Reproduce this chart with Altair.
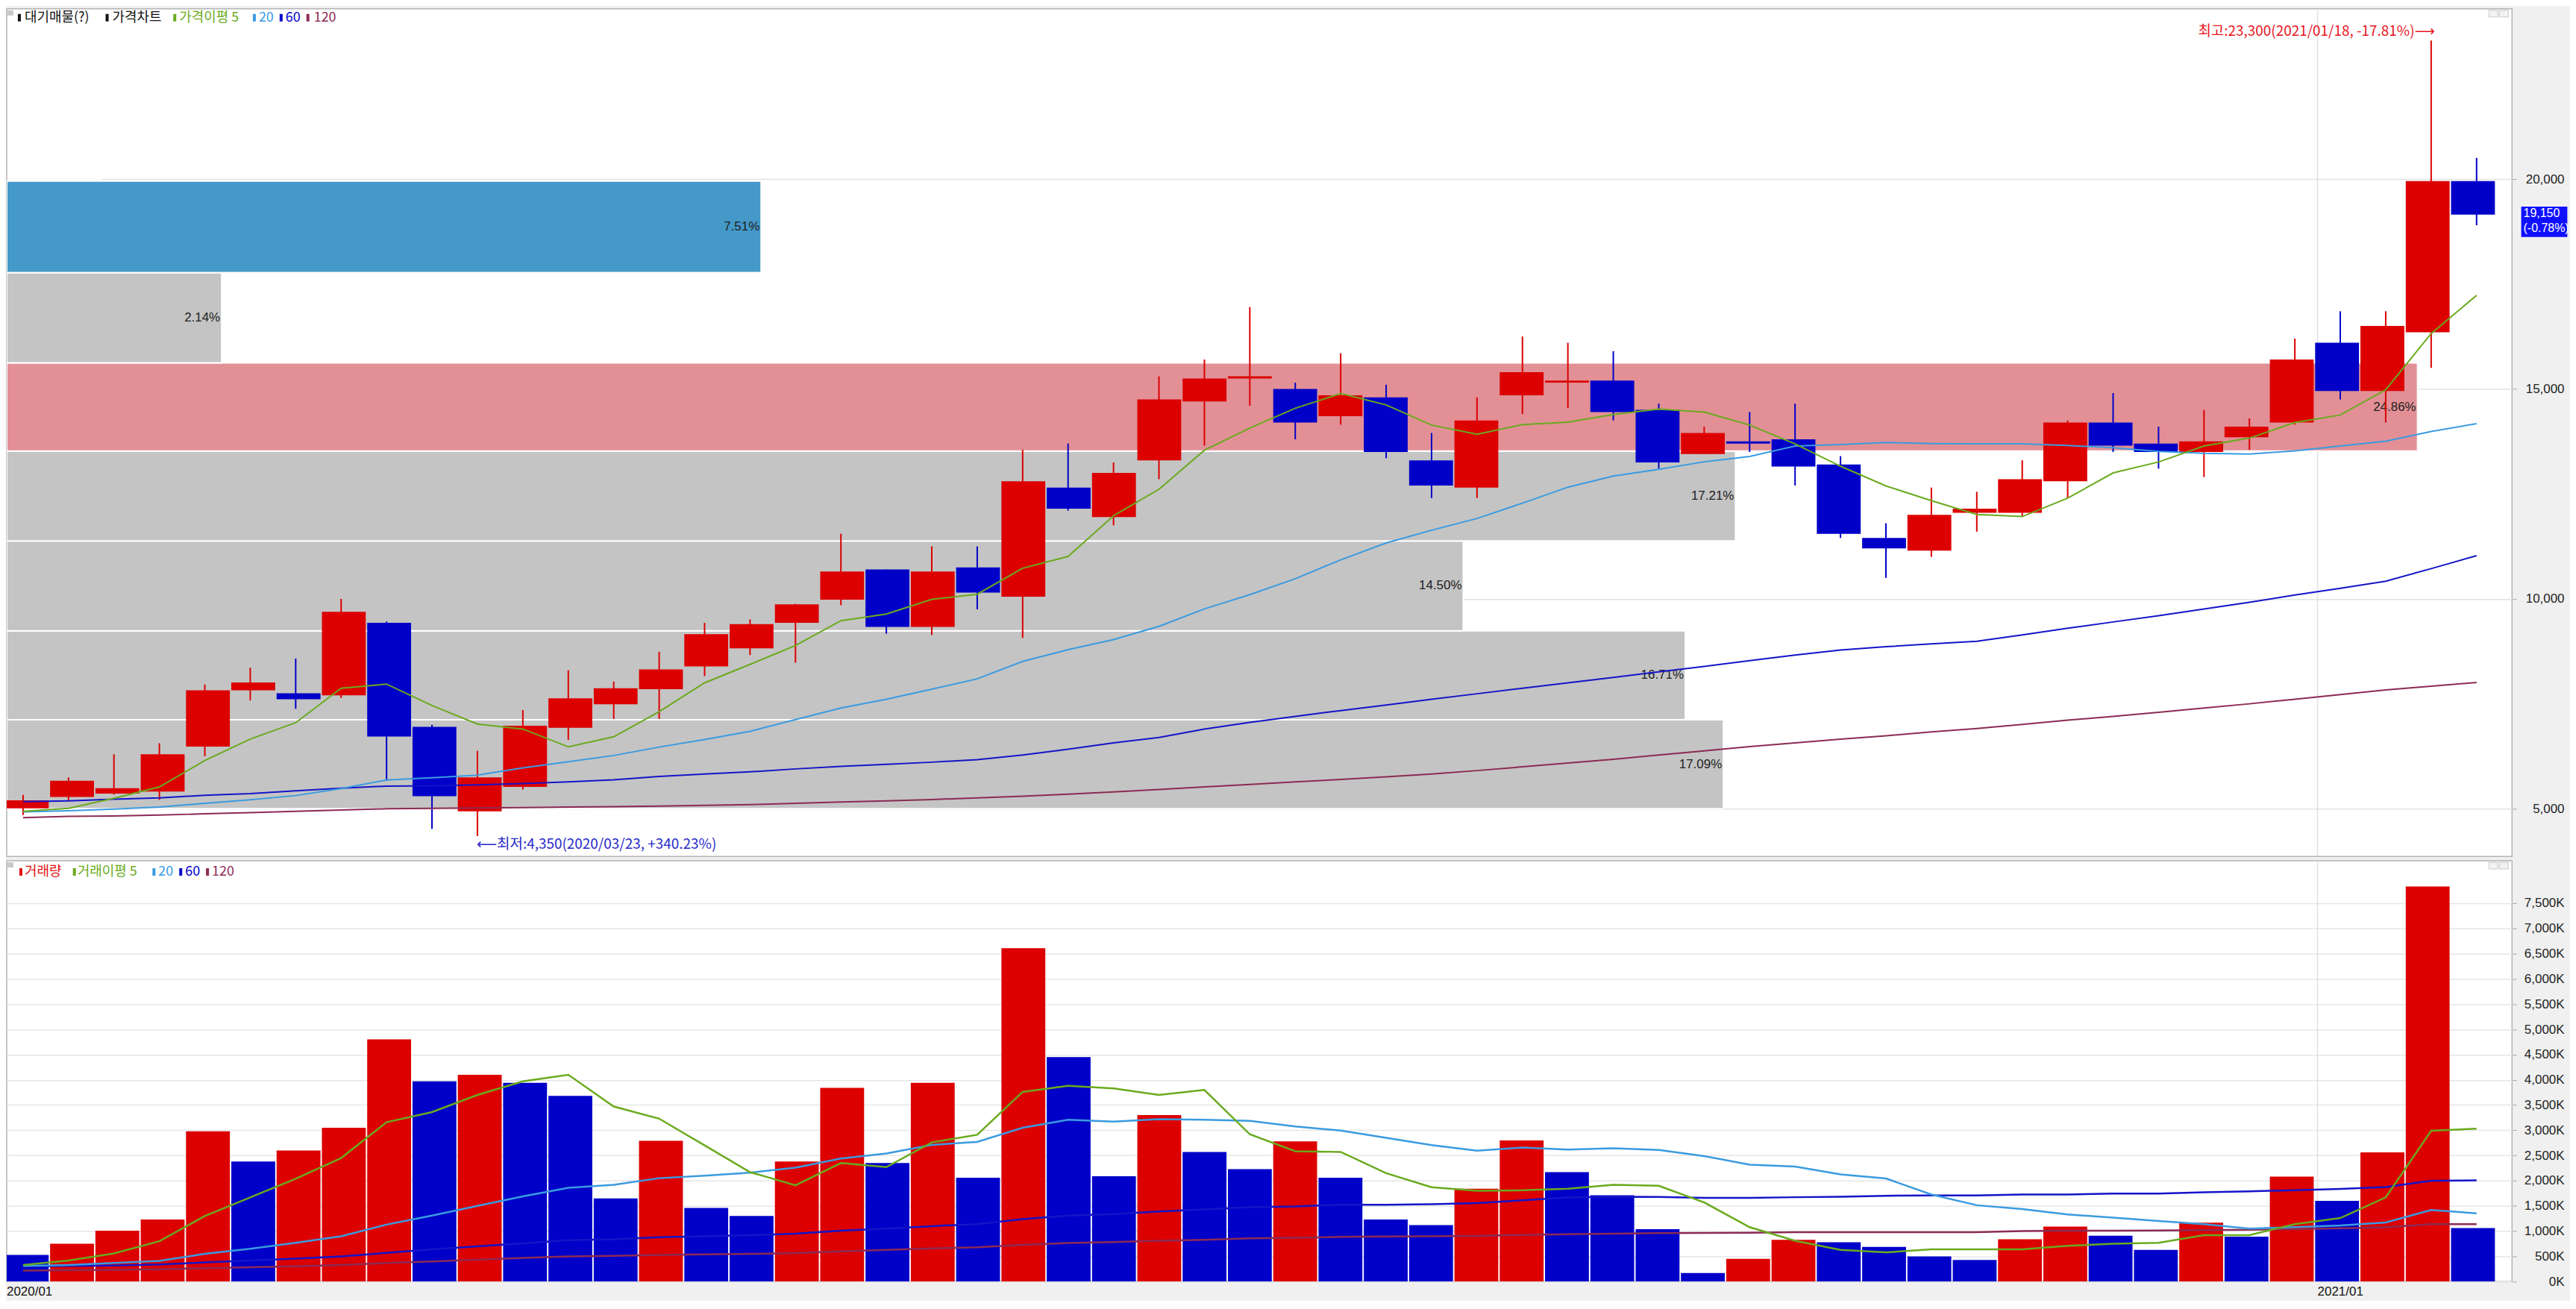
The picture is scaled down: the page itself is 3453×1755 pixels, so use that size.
import altair as alt
import numpy as np
import pandas as pd

# ---------------- data (weekly bars) ----------------
bars = list(range(1, 56))
open_ = [5010, 5280, 5360, 5410, 6480, 7820, 7750, 7700, 9430, 6950,
         4940, 5520, 6930, 7490, 7850, 8390, 8820, 9430, 9980, 10700,
         9330, 10750, 10050, 12650, 11950, 13300, 14700, 15250, 15000, 14350,
         14800, 13300, 12650, 14850, 15150, 15200, 14500, 13450, 13750, 13800,
         13200, 11450, 11150, 12050, 12050, 12800, 14200, 13700, 13500, 13850,
         14200, 16100, 14950, 16350, 19950]
high = [5330, 5750, 6300, 6560, 7960, 8360, 8580, 10000, 9460, 7000,
        6380, 7350, 8300, 8030, 8740, 9430, 9510, 9880, 11550, 10700,
        11250, 11250, 13550, 13700, 13250, 15300, 15700, 16950, 15150, 15850,
        15100, 13950, 14800, 16250, 16100, 15900, 14650, 14100, 14450, 14650,
        13400, 11800, 12650, 12550, 13300, 14250, 14900, 14100, 14500, 14300,
        16200, 16850, 16850, 23300, 20500]
low = [4850, 5190, 5340, 5210, 6250, 7580, 7380, 7640, 5670, 4520,
       4350, 5460, 6640, 7140, 7140, 8160, 8660, 8480, 9850, 9170,
       9140, 9750, 9070, 12100, 11750, 12850, 13650, 14600, 13800, 14150,
       13350, 12400, 12400, 14400, 14550, 14250, 13100, 13450, 13500, 12700,
       11450, 10500, 11000, 11600, 11950, 12400, 13500, 13100, 12900, 13550,
       14150, 14750, 14200, 15500, 18900]
close = [5200, 5670, 5490, 6300, 7820, 8010, 7610, 9690, 6720, 5300,
         5750, 6980, 7630, 7870, 8320, 9160, 9400, 9870, 10650, 9330,
         10650, 10150, 12800, 12150, 13000, 14750, 15250, 15300, 14200, 14850,
         13500, 12700, 14250, 15400, 15200, 14450, 13250, 13950, 13700, 13150,
         11550, 11200, 12000, 12150, 12850, 14200, 13650, 13500, 13750, 14100,
         15700, 14950, 16500, 19950, 19150]

price_ma5 = [4940, 5010, 5250, 5520, 6150, 6660, 7050, 7870, 7970, 7460,
             7020, 6900, 6475, 6715, 7315, 8000, 8440, 8890, 9480, 9640,
             9990, 10110, 10730, 11010, 11980, 12610, 13540, 14070, 14540, 14890,
             14620, 14140, 13920, 14150, 14210, 14390, 14520, 14450, 14140, 13690,
             13160, 12690, 12340, 12010, 11960, 12400, 13000, 13260, 13640, 13830,
             14200, 14380, 14980, 16320, 17230]
price_ma20 = [4925, 4955, 4995, 5040, 5130, 5215, 5315, 5480, 5685, 5740,
              5800, 5975, 6120, 6270, 6470, 6650, 6845, 7125, 7400, 7610,
              7850, 8095, 8510, 8790, 9030, 9345, 9760, 10100, 10480, 10930,
              11330, 11635, 11915, 12280, 12660, 12925, 13085, 13265, 13390, 13640,
              13675, 13725, 13700, 13695, 13695, 13655, 13600, 13510, 13465, 13450,
              13525, 13640, 13755, 13985, 14175]
price_ma60 = [5170, 5190, 5230, 5260, 5320, 5360, 5430, 5490, 5540, 5550,
              5570, 5600, 5640, 5690, 5770, 5830, 5880, 5950, 6010, 6060,
              6110, 6170, 6280, 6420, 6570, 6700, 6900, 7060, 7200, 7340,
              7470, 7610, 7740, 7870, 8000, 8130, 8260, 8390, 8530, 8660,
              8780, 8860, 8930, 8990, 9140, 9300, 9450, 9600, 9760, 9920,
              10090, 10250, 10420, 10720, 11030]
price_ma120 = [4790, 4820, 4830, 4850, 4880, 4910, 4940, 4970, 5000, 5010,
               5020, 5030, 5040, 5050, 5065, 5080, 5100, 5130, 5160, 5190,
               5220, 5260, 5300, 5350, 5400, 5460, 5520, 5580, 5640, 5700,
               5760, 5830, 5910, 6000, 6090, 6180, 6280, 6380, 6480, 6570,
               6660, 6740, 6830, 6910, 7010, 7110, 7200, 7300, 7400, 7500,
               7610, 7720, 7830, 7920, 8010]

volume_k = [530, 750, 1010, 1230, 2980, 2380, 2600, 3050, 4800, 3970,
            4100, 3940, 3680, 1650, 2790, 1460, 1300, 2380, 3840, 2350,
            3940, 2060, 6610, 4450, 2090, 3300, 2570, 2230, 2780, 2060,
            1230, 1120, 1840, 2800, 2170, 1710, 1040, 170, 450, 830,
            780, 690, 500, 430, 840, 1090, 910, 630, 1170, 890,
            2080, 1600, 2560, 7830, 1060]
vol_ma5 = [330, 420, 560, 800, 1300, 1670, 2040, 2450, 3160, 3360,
           3700, 3970, 4100, 3470, 3230, 2700, 2170, 1910, 2350, 2270,
           2760, 2910, 3760, 3880, 3830, 3700, 3800, 2920, 2585, 2570,
           2150, 1870, 1800, 1810, 1840, 1920, 1900, 1570, 1080, 810,
           630, 580, 640, 640, 640, 710, 750, 770, 920, 920,
           1140, 1260, 1670, 2990, 3030]
vol_ma20 = [310, 330, 370, 410, 550, 650, 770, 900, 1130, 1310,
            1500, 1690, 1860, 1920, 2050, 2100, 2160, 2260, 2440, 2540,
            2710, 2770, 3050, 3210, 3170, 3220, 3210, 3187, 3076, 2994,
            2850, 2705, 2594, 2657, 2618, 2643, 2609, 2488, 2319, 2281,
            2127, 2045, 1726, 1514, 1437, 1331, 1268, 1201, 1138, 1051,
            1080, 1114, 1172, 1418, 1355]
vol_ma60 = [300, 310, 320, 340, 380, 420, 455, 500, 570, 640,
            700, 760, 820, 840, 880, 900, 920, 950, 1010, 1050,
            1100, 1140, 1240, 1310, 1340, 1390, 1430, 1476, 1490, 1524,
            1524, 1533, 1558, 1611, 1668, 1683, 1678, 1659, 1659, 1673,
            1683, 1702, 1707, 1707, 1726, 1726, 1746, 1746, 1770, 1789,
            1813, 1837, 1876, 2001, 2006]
vol_ma120 = [220, 225, 235, 245, 265, 285, 305, 330, 370, 400,
             435, 470, 500, 510, 530, 540, 550, 565, 600, 630,
             660, 680, 730, 765, 785, 810, 830, 858, 870, 887,
             895, 900, 907, 925, 940, 950, 960, 965, 970, 979,
             979, 979, 979, 979, 1003, 1008, 1010, 1013, 1020, 1027,
             1040, 1056, 1075, 1138, 1138]

# waiting-supply (대기매물) price bands, bottom to top
profile_lo = [5000, 7120, 9240, 11380, 13520, 15620, 17770]
profile_hi = [7120, 9240, 11380, 13520, 15620, 17770, 19950]
profile_pct = [17.09, 16.71, 14.50, 17.21, 24.86, 2.14, 7.51]

month_first_bar = [1, 52]
month_labels = ["2020/01", "2021/01"]
price_ticks = [5000, 10000, 15000, 20000]
vol_ticks = list(range(0, 8000, 500))

high_note = "최고:23,300(2021/01/18, -17.81%)⟶"
low_note = "⟵최저:4,350(2020/03/23, +340.23%)"
last_note = "19,150\n(-0.78%)"

for arr in (open_, high, low, close, price_ma5, price_ma20, price_ma60, price_ma120,
            volume_k, vol_ma5, vol_ma20, vol_ma60, vol_ma120):
    assert len(arr) == len(bars)

# ---------------- styling / layout ----------------
W, HP, HV = 3369, 1140, 566
XDOM = [0.64, 55.78]
PDOM = [3867, 24055]
VDOM = [0, 8340]
RED, BLUE = "#dc0000", "#0000c8"
GREEN, LBLUE, DBLUE, MAROON = "#6aaa1e", "#3a9be0", "#1414c8", "#8c2a55"
PINK, GRAY, PBLUE = "#e29096", "#c4c4c4", "#4499c9"
KFONT = "Noto Sans CJK KR, DejaVu Sans, sans-serif"
NFONT = "Liberation Sans, DejaVu Sans, sans-serif"

one = pd.DataFrame({"a": [0]})


def xb(field="bar", clamp=False):
    return alt.X(f"{field}:Q", scale=alt.Scale(domain=XDOM, nice=False, zero=False, clamp=clamp), axis=None)


AXP = alt.Axis(orient="right", values=price_ticks, labelExpr="format(datum.value, ',.0f')",
               title=None, grid=True,
               gridColor="#e2e2e2", gridWidth=1.5, tickSize=6, tickColor="#a8a8a8",
               domain=False, labelAlign="right", labelPadding=64, labelFont=NFONT,
               labelFontSize=17, labelColor="#222222", labelBaseline="middle")
AXV = alt.Axis(orient="right", values=vol_ticks, labelExpr="format(datum.value, ',.0f') + 'K'",
               title=None, grid=True, gridColor="#e6e6e6", gridWidth=1.5, tickSize=6,
               tickColor="#a8a8a8", domain=False, labelAlign="right", labelPadding=64,
               labelFont=NFONT, labelFontSize=17, labelColor="#222222", labelBaseline="middle")


def yp(field):
    return alt.Y(f"{field}:Q", scale=alt.Scale(domain=PDOM, nice=False, zero=False), axis=AXP)


def yv(field):
    return alt.Y(f"{field}:Q", scale=alt.Scale(domain=VDOM, nice=False, zero=False), axis=AXV)


# ---------------- tables ----------------
df_c = pd.DataFrame({"bar": bars, "open": open_, "high": high, "low": low, "close": close})
df_c["updown"] = np.where(df_c["close"] >= df_c["open"], "up", "down")
df_pma = pd.DataFrame({"bar": bars, "m5": price_ma5, "m20": price_ma20, "m60": price_ma60, "m120": price_ma120})
df_v = pd.DataFrame({"bar": bars, "vol": volume_k})
df_v["updown"] = np.where(df_v["vol"] > df_v["vol"].shift(1), "up", "down")
df_vma = pd.DataFrame({"bar": bars, "m5": vol_ma5, "m20": vol_ma20, "m60": vol_ma60, "m120": vol_ma120})

last_close = close[-1]
df_p = pd.DataFrame({"lo": profile_lo, "hi": profile_hi, "pct": profile_pct})
df_p["base"] = 0.0
df_p["mid"] = (df_p["lo"] + df_p["hi"]) / 2
df_p["plabel"] = [f"{p:.2f}%" for p in profile_pct]
df_p["kind"] = ["max" if p == max(profile_pct) else ("current" if lo <= last_close < hi else "other")
                for p, lo, hi in zip(profile_pct, profile_lo, profile_hi)]

df_m = pd.DataFrame({"bar": month_first_bar, "label": month_labels})
hi_i = int(np.argmax(high))
lo_i = int(np.argmin(low))
df_hi = pd.DataFrame({"bar": [bars[hi_i]], "price": [high[hi_i]], "label": [high_note]})
df_lo = pd.DataFrame({"bar": [bars[lo_i]], "price": [low[lo_i]], "label": [low_note]})
df_last = pd.DataFrame({"bar": [bars[-1]], "price": [last_close], "label": [last_note]})

UPDOWN = alt.when(alt.datum.updown == "up").then(alt.value(RED)).otherwise(alt.value(BLUE))
KIND = (alt.when(alt.datum.kind == "max").then(alt.value(PINK))
        .when(alt.datum.kind == "current").then(alt.value(PBLUE))
        .otherwise(alt.value(GRAY)))
PXS = alt.Scale(domain=[0, 24.0], range=[0, 3242], clamp=True)


def legend_layers(entries, yc):
    out = []
    out.append(alt.Chart(one).mark_rect(color="#c8c8c8").encode(
        x=alt.value(0), x2=alt.value(9), y=alt.value(2), y2=alt.value(9)))
    for xm, xt, text, col in entries:
        out.append(alt.Chart(one).mark_rect(color=col).encode(
            x=alt.value(xm), x2=alt.value(xm + 4), y=alt.value(yc - 5), y2=alt.value(yc + 5)))
        out.append(alt.Chart(one).mark_text(align="left", baseline="middle", font=KFONT,
                                            fontSize=18, color=col).encode(
            x=alt.value(xt), y=alt.value(yc), text=alt.value(text)))
    for x0 in (3338, 3352):
        out.append(alt.Chart(one).mark_rect(fill="#f2f2f2", stroke="#c8c8c8", strokeWidth=1).encode(
            x=alt.value(x0), x2=alt.value(x0 + 12), y=alt.value(2), y2=alt.value(11)))
    return out


# ---------------- price panel ----------------
p_layers = []
p_layers.append(alt.Chart(df_m).transform_calculate(edge="datum.bar - 0.5").mark_rule(
    color="#e0e0e0", strokeWidth=1.5, clip=True).encode(x=xb("edge")))
p_layers.append(alt.Chart(df_p).mark_rect(stroke="white", strokeWidth=2, clip=True).encode(
    x=alt.X("base:Q", scale=PXS, axis=None), x2="pct:Q", y=yp("lo"), y2="hi:Q", fill=KIND))
p_layers.append(alt.Chart(df_p).mark_text(align="right", baseline="middle", dx=-2, font=NFONT,
                                          fontSize=17, color="#202020").encode(
    x=alt.X("pct:Q", scale=PXS, axis=None), y=yp("mid"), text="plabel:N"))
p_layers.append(alt.Chart(df_c).mark_rule(strokeWidth=2, clip=True).encode(
    x=xb(), y=yp("low"), y2="high:Q", color=UPDOWN))
p_layers.append(alt.Chart(df_c).mark_bar(size=59, clip=True).encode(
    x=xb(), y=yp("open"), y2="close:Q", color=UPDOWN))
for key, col in (("m120", MAROON), ("m60", DBLUE), ("m20", LBLUE), ("m5", GREEN)):
    p_layers.append(alt.Chart(df_pma).mark_line(color=col, strokeWidth=2, clip=True).encode(
        x=xb(), y=yp(key)))
p_layers.append(alt.Chart(df_hi).mark_text(align="right", baseline="middle", dx=5, dy=-12,
                                           font=KFONT, fontSize=19, color="#e8141e").encode(
    x=xb(), y=yp("price"), text="label:N"))
p_layers.append(alt.Chart(df_lo).mark_text(align="left", baseline="middle", dx=-1, dy=11,
                                           font=KFONT, fontSize=19, color="#2828c8").encode(
    x=xb(), y=yp("price"), text="label:N"))
p_layers.append(alt.Chart(df_last).mark_rect(color="#1010ff", xOffset=60, x2Offset=122,
                                             yOffset=-11, y2Offset=30).encode(
    x=xb(), x2="bar:Q", y=yp("price"), y2="price:Q"))
p_layers.append(alt.Chart(df_last).mark_text(align="left", baseline="top", dx=63, dy=-10,
                                             lineBreak="\n", lineHeight=20, font=NFONT,
                                             fontSize=16, color="white").encode(
    x=xb(), y=yp("price"), text="label:N"))
p_layers += legend_layers([
    (15, 24, "대기매물(?)", "#111111"),
    (133, 142, "가격차트", "#111111"),
    (224, 232, "가격이평 5", GREEN),
    (331, 339, "20", LBLUE),
    (367, 375, "60", "#0000cc"),
    (403, 413, "120", MAROON),
], 12)

price = alt.layer(*p_layers).resolve_scale(x="independent").properties(width=W, height=HP)

# ---------------- volume panel ----------------
v_layers = []
v_layers.append(alt.Chart(df_m).transform_calculate(edge="datum.bar - 0.5").mark_rule(
    color="#e0e0e0", strokeWidth=1.5, clip=True).encode(x=xb("edge")))
v_layers.append(alt.Chart(df_v).mark_bar(size=59, clip=True).encode(
    x=xb(), y=yv("vol"), color=UPDOWN))
for key, col in (("m120", MAROON), ("m60", DBLUE), ("m20", LBLUE), ("m5", GREEN)):
    v_layers.append(alt.Chart(df_vma).mark_line(color=col, strokeWidth=2.5, clip=True).encode(
        x=xb(), y=yv(key)))
v_layers.append(alt.Chart(df_m).transform_calculate(edge="datum.bar - 0.5").mark_text(
    align="left", baseline="middle", font=NFONT, fontSize=17, color="#111111").encode(
    x=xb("edge", clamp=True), y=alt.value(HV + 14), text="label:N"))
v_layers += legend_layers([
    (17, 24, "거래량", "#e01010"),
    (89, 95, "거래이평 5", GREEN),
    (196, 204, "20", LBLUE),
    (232, 240, "60", "#0000cc"),
    (268, 276, "120", MAROON),
], 15)

vol = alt.layer(*v_layers).resolve_scale(x="independent").properties(width=W, height=HV)

chart = (alt.vconcat(price, vol, spacing=4)
         .properties(padding=0)
         .configure(background="#f0f0f0")
         .configure_view(fill="white", stroke="#b4b4b4", strokeWidth=1.5))

chart.save("out.html", embed_options={"renderer": "svg", "actions": False})
